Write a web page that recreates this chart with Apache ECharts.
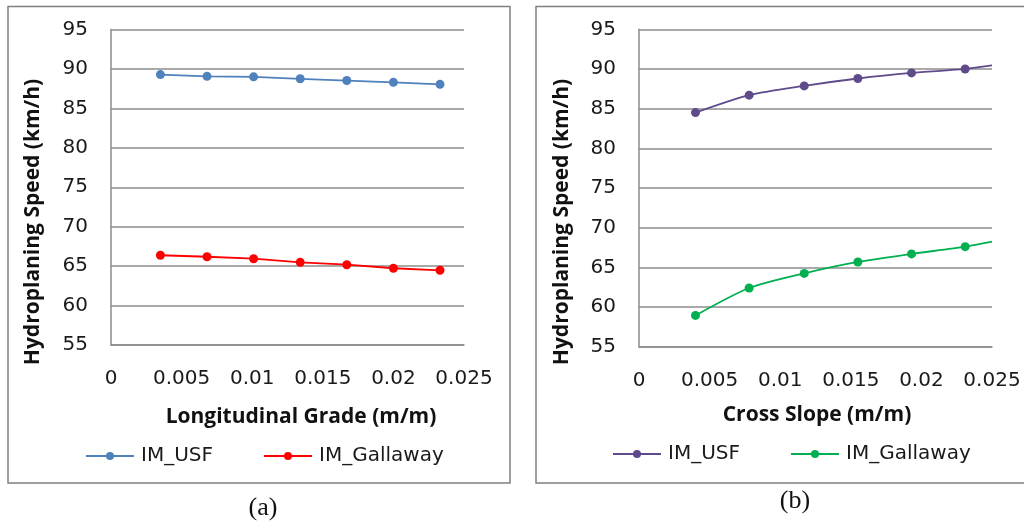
<!DOCTYPE html>
<html>
<head>
<meta charset="utf-8">
<script src="https://cdn.jsdelivr.net/npm/echarts@6/dist/echarts.min.js"></script>
<style>
html,body{margin:0;padding:0;background:#fff;}
#chart{width:1024px;height:525px;}
</style>
</head>
<body>
<div id="chart"></div>
<script>
// Panel (a): Longitudinal grade
const xLong = [0.0035, 0.0068, 0.0101, 0.0134, 0.0167, 0.0200, 0.0233];
const usfLong = [89.28, 89.06, 89.00, 88.75, 88.53, 88.30, 88.05];
const galLong = [66.38, 66.19, 65.94, 65.48, 65.18, 64.73, 64.47];
// Panel (b): Cross slope
const xCross = [0.0040, 0.0078, 0.0117, 0.0155, 0.0193, 0.0231];
const usfCross = [84.50, 86.70, 87.87, 88.80, 89.50, 90.00];
const galCross = [58.94, 62.40, 64.24, 65.68, 66.69, 67.61];
// trend line end points (panel b)
const crossEndX = 0.025;
const usfCrossEnd = 90.45;
const galCrossEnd = 68.24;

const seriesNames = ['IM_USF', 'IM_Gallaway'];
const yMin = 55, yMax = 95, yStep = 5;
const xMin = 0, xMax = 0.025, xStep = 0.005;

const FONT = 'DejaVu Sans';
const TFONT = 'Open Sans';
const GRID = '#8c8c8c';

function pairs(xs, ys) { return xs.map((x, i) => [x, ys[i]]); }
function withEnd(xs, ys, ex, ey) {
  const d = pairs(xs, ys);
  d.push({ value: [ex, ey], symbol: 'none' });
  return d;
}

function xAxis(gi) {
  return {
    type: 'value', gridIndex: gi, min: xMin, max: xMax, interval: xStep,
    axisLine: { show: true, lineStyle: { color: GRID, width: 1.5 } },
    axisTick: { show: false },
    splitLine: { show: false },
    axisLabel: { margin: 24, fontFamily: FONT, fontSize: 20, color: '#1a1a1a',
      formatter: v => String(+v.toFixed(4)) }
  };
}
function yAxis(gi) {
  return {
    type: 'value', gridIndex: gi, min: yMin, max: yMax, interval: yStep,
    axisLine: { show: true, lineStyle: { color: GRID, width: 1.5 } },
    axisTick: { show: false },
    splitLine: { show: true, lineStyle: { color: GRID, width: 1.5 } },
    axisLabel: { margin: 23, fontFamily: FONT, fontSize: 20, color: '#1a1a1a' }
  };
}
function lineSeries(name, gi, data, color) {
  return {
    name: name, type: 'line', xAxisIndex: gi, yAxisIndex: gi, data: data,
    symbol: 'circle', symbolSize: 9, smooth: 0.25,
    lineStyle: { color: color, width: 1.8 },
    itemStyle: { color: color },
    emphasis: { disabled: true }, animation: false
  };
}

const titleStyle = { fontFamily: TFONT, fontWeight: 'bold', fontSize: 21, fill: '#111', align: 'center', verticalAlign: 'middle' };

const chart = echarts.init(document.getElementById('chart'));
chart.setOption({
  animation: false,
  grid: [
    { left: 111, right: 560, top: 29.5, bottom: 180 },
    { left: 639, right: 32, top: 29.3, bottom: 178.3 }
  ],
  xAxis: [xAxis(0), xAxis(1)],
  yAxis: [yAxis(0), yAxis(1)],
  legend: [
    { show: true, data: [seriesNames[0], seriesNames[1]], left: 85, top: 446, padding: 0, itemWidth: 48, itemHeight: 10, itemGap: 50,
      textStyle: { fontFamily: FONT, fontSize: 20, color: '#1a1a1a', padding: [0, 0, 0, 2] }, selectedMode: false },
    { show: true, data: [seriesNames[0] + ' ', seriesNames[1] + ' '], left: 612, top: 444, padding: 0, itemWidth: 48, itemHeight: 10, itemGap: 50,
      formatter: n => n.trim(),
      textStyle: { fontFamily: FONT, fontSize: 20, color: '#1a1a1a', padding: [0, 0, 0, 2] }, selectedMode: false }
  ],
  series: [
    Object.assign(lineSeries(seriesNames[0], 0, pairs(xLong, usfLong), '#4f81bd'), { smooth: false }),
    Object.assign(lineSeries(seriesNames[1], 0, pairs(xLong, galLong), '#ff0000'), { smooth: false }),
    lineSeries(seriesNames[0] + ' ', 1, withEnd(xCross, usfCross, crossEndX, usfCrossEnd), '#5f4b8b'),
    lineSeries(seriesNames[1] + ' ', 1, withEnd(xCross, galCross, crossEndX, galCrossEnd), '#00b050')
  ],
  graphic: [
    { type: 'rect', shape: { x: 8, y: 6.5, width: 502, height: 476.5 }, style: { fill: 'none', stroke: '#7f7f7f', lineWidth: 1.5 }, z: -1 },
    { type: 'rect', shape: { x: 536, y: 6.5, width: 520, height: 476.5 }, style: { fill: 'none', stroke: '#7f7f7f', lineWidth: 1.5 }, z: -1 },
    { type: 'text', x: 33, y: 222, rotation: Math.PI / 2,
      style: Object.assign({ text: 'Hydroplaning Speed (km/h)' }, titleStyle) },
    { type: 'text', x: 562, y: 222, rotation: Math.PI / 2,
      style: Object.assign({ text: 'Hydroplaning Speed (km/h)' }, titleStyle) },
    { type: 'text', x: 301, y: 417,
      style: Object.assign({ text: 'Longitudinal Grade (m/m)' }, titleStyle) },
    { type: 'text', x: 817, y: 415,
      style: Object.assign({ text: 'Cross Slope (m/m)' }, titleStyle) },
    { type: 'text', x: 263, y: 508,
      style: { text: '(a)', fontFamily: 'Liberation Serif', fontSize: 26, fill: '#111', align: 'center', verticalAlign: 'middle' } },
    { type: 'text', x: 795, y: 501,
      style: { text: '(b)', fontFamily: 'Liberation Serif', fontSize: 26, fill: '#111', align: 'center', verticalAlign: 'middle' } }
  ]
});
</script>
</body>
</html>
